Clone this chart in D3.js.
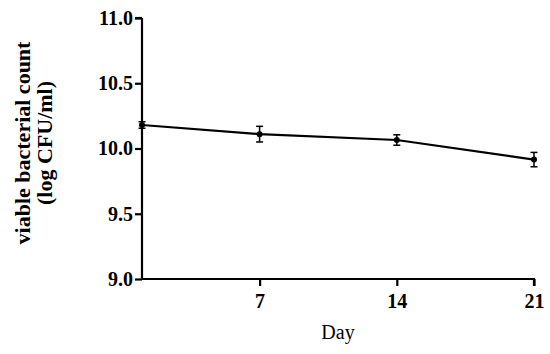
<!DOCTYPE html>
<html>
<head>
<meta charset="utf-8">
<script src="https://cdn.jsdelivr.net/npm/d3@7"></script>
<style>
  body { margin: 0; background: #fff; }
  text { font-family: "Liberation Serif", "Times New Roman", serif; }
</style>
</head>
<body>
<div id="viz"></div>
<script>
// data
var days = [1, 7, 14, 21];
var counts = [10.18, 10.11, 10.065, 9.915];
var errs = [0.025, 0.06, 0.04, 0.055];
var xTicks = [7, 14, 21];
var yTicks = [9.0, 9.5, 10.0, 10.5, 11.0];

var width = 550, height = 354;
var plotLeft = 142, plotRight = 534, plotTop = 18, plotBottom = 279;
var serif = 'Liberation Serif, Times New Roman, serif';

var svg = d3.select('#viz').append('svg')
  .attr('width', width)
  .attr('height', height);

var x = d3.scaleLinear().domain([1, 21]).range([plotLeft, plotRight]);
var y = d3.scaleLinear().domain([9, 11]).range([plotBottom, plotTop]);

// y axis
var yAxis = svg.append('g')
  .attr('transform', 'translate(' + plotLeft + ',0)')
  .call(d3.axisLeft(y).tickValues(yTicks).tickFormat(d3.format('.1f')).tickSize(7).tickPadding(2));

// x axis
var xAxis = svg.append('g')
  .attr('transform', 'translate(0,' + plotBottom + ')')
  .call(d3.axisBottom(x).tickValues(xTicks).tickSize(7).tickPadding(8));

[xAxis, yAxis].forEach(function(ax) {
  ax.attr('font-family', serif).attr('font-size', 20).attr('font-weight', 'bold');
  ax.select('.domain').attr('stroke', '#000').attr('stroke-width', 2.2);
  ax.selectAll('.tick line').attr('stroke', '#000').attr('stroke-width', 2.2);
  ax.selectAll('.tick text')
    .attr('fill', '#000')
    .attr('font-family', serif)
    .style('font-family', serif)
    .style('font-size', '20px')
    .style('font-weight', 'bold');
});
// plain axis lines, no end ticks
xAxis.select('.domain').attr('d', 'M' + (plotLeft - 1) + ',0H' + plotRight + 'V7');
yAxis.select('.domain').attr('d', 'M0,' + plotTop + 'V' + plotBottom);
yAxis.select('.domain').clone().attr('d', 'M-7,' + plotTop + 'H0');

// line
var line = d3.line()
  .x(function(d, i) { return x(days[i]); })
  .y(function(d) { return y(d); });

svg.append('path')
  .datum(counts)
  .attr('d', line)
  .attr('fill', 'none')
  .attr('stroke', '#000')
  .attr('stroke-width', 2.2);

// error bars
var eb = svg.selectAll('.err')
  .data(counts)
  .enter().append('g')
  .attr('class', 'err');

eb.append('line')
  .attr('x1', function(d, i) { return x(days[i]); })
  .attr('x2', function(d, i) { return x(days[i]); })
  .attr('y1', function(d, i) { return y(d - errs[i]); })
  .attr('y2', function(d, i) { return y(d + errs[i]); })
  .attr('stroke', '#000').attr('stroke-width', 1.5);

[1, -1].forEach(function(s) {
  eb.append('line')
    .attr('x1', function(d, i) { return x(days[i]) - 3.5; })
    .attr('x2', function(d, i) { return x(days[i]) + 3.5; })
    .attr('y1', function(d, i) { return y(d + s * errs[i]); })
    .attr('y2', function(d, i) { return y(d + s * errs[i]); })
    .attr('stroke', '#000').attr('stroke-width', 1.5);
});

svg.selectAll('.dot')
  .data(counts)
  .enter().append('circle')
  .attr('cx', function(d, i) { return x(days[i]); })
  .attr('cy', function(d) { return y(d); })
  .attr('r', 3)
  .attr('fill', '#000');

// axis titles
svg.append('text')
  .attr('x', 338).attr('y', 339)
  .attr('text-anchor', 'middle')
  .style('font-size', '20px')
  .text('Day');

var yt = svg.append('text')
  .attr('transform', 'translate(30,143) rotate(-90)')
  .attr('text-anchor', 'middle')
  .style('font-size', '22px')
  .style('font-weight', 'bold');
yt.append('tspan').attr('x', 0).attr('y', 0).text('viable bacterial count');
yt.append('tspan').attr('x', 0).attr('y', 22).text('(log CFU/ml)');
</script>
</body>
</html>
